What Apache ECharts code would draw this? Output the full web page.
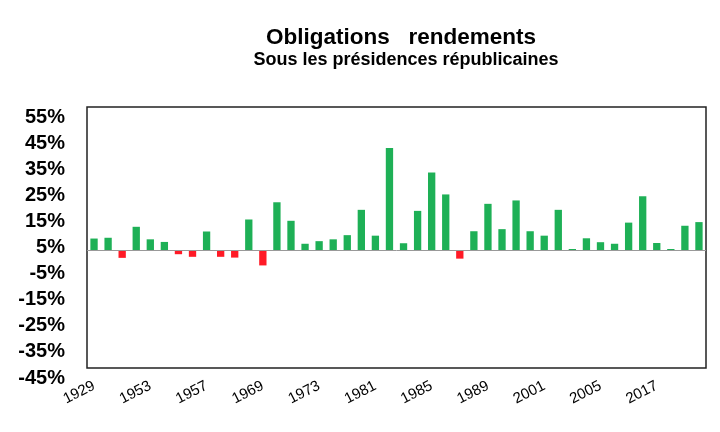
<!DOCTYPE html>
<html>
<head>
<meta charset="utf-8">
<script src="https://cdn.jsdelivr.net/npm/echarts@6/dist/echarts.min.js"></script>
<style>
html,body{margin:0;padding:0;background:#fff;}
#chart{width:720px;height:432px;}
</style>
</head>
<body>
<div id="chart"></div>
<script>
// Republican presidency years (44 bars)
var categories = [
  '1929','1930','1931','1932',
  '1953','1954','1955','1956','1957','1958','1959','1960',
  '1969','1970','1971','1972','1973','1974','1975','1976',
  '1981','1982','1983','1984','1985','1986','1987','1988','1989','1990','1991','1992',
  '2001','2002','2003','2004','2005','2006','2007','2008',
  '2017','2018','2019','2020'
];
// Bond returns (%)
var returns = [
  4.6, 4.9, -2.8, 9.1,
  4.3, 3.3, -1.4, -2.4, 7.3, -2.4, -2.7, 11.9,
  -5.7, 18.5, 11.4, 2.6, 3.6, 4.3, 5.9, 15.6,
  5.7, 39.3, 2.8, 15.2, 29.9, 21.5, -3.1, 7.4, 17.9, 8.2, 19.2, 7.4,
  5.7, 15.6, 0.6, 4.7, 3.2, 2.6, 10.7, 20.8,
  2.9, 0.6, 9.5, 10.9
];
// Value axis tick labels
var yTicks = [-45, -35, -25, -15, -5, 5, 15, 25, 35, 45, 55];

var chart = echarts.init(document.getElementById('chart'));
chart.setOption({
  animation: false,
  backgroundColor: '#fff',
  title: [
    {text: 'Obligations   rendements', left: 396, top: 21, textAlign: 'center',
     textStyle: {fontFamily: 'Liberation Sans, Arial', fontSize: 22.5, fontWeight: 'bold', color: '#000'}},
    {text: 'Sous les présidences républicaines', left: 401, top: 46, textAlign: 'center',
     textStyle: {fontFamily: 'Liberation Sans, Arial', fontSize: 18, fontWeight: 'bold', color: '#000'}}
  ],
  grid: {left: 87, right: 14, top: 107, bottom: 64, show: true, borderColor: '#222', borderWidth: 1.5, containLabel: false},
  xAxis: {
    type: 'category',
    data: categories,
    axisLine: {show: false},
    axisTick: {show: false},
    axisLabel: {
      interval: 3,
      rotate: 27,
      margin: 17,
      fontFamily: 'Liberation Sans, Arial',
      fontSize: 15,
      color: '#000'
    }
  },
  yAxis: {
    type: 'value',
    min: -45,
    max: 55,
    interval: 5,
    axisLine: {show: false},
    axisTick: {show: false},
    splitLine: {show: false},
    axisLabel: {
      margin: 22,
      verticalAlign: 'top',
      fontFamily: 'Liberation Sans, Arial',
      fontSize: 20,
      fontWeight: 'bold',
      color: '#000',
      formatter: function (v) {
        var r = Math.round(v);
        return yTicks.indexOf(r) >= 0 ? r + '%' : '';
      }
    }
  },
  series: [{
    type: 'bar',
    data: returns,
    barCategoryGap: '48%',
    itemStyle: {
      color: function (p) { return p.value < 0 ? '#FF1A26' : '#1EB056'; }
    },
    markLine: {
      silent: true,
      symbol: 'none',
      label: {show: false},
      lineStyle: {color: '#999', width: 1, type: 'solid'},
      data: [{yAxis: 0}]
    }
  }]
});
</script>
</body>
</html>
